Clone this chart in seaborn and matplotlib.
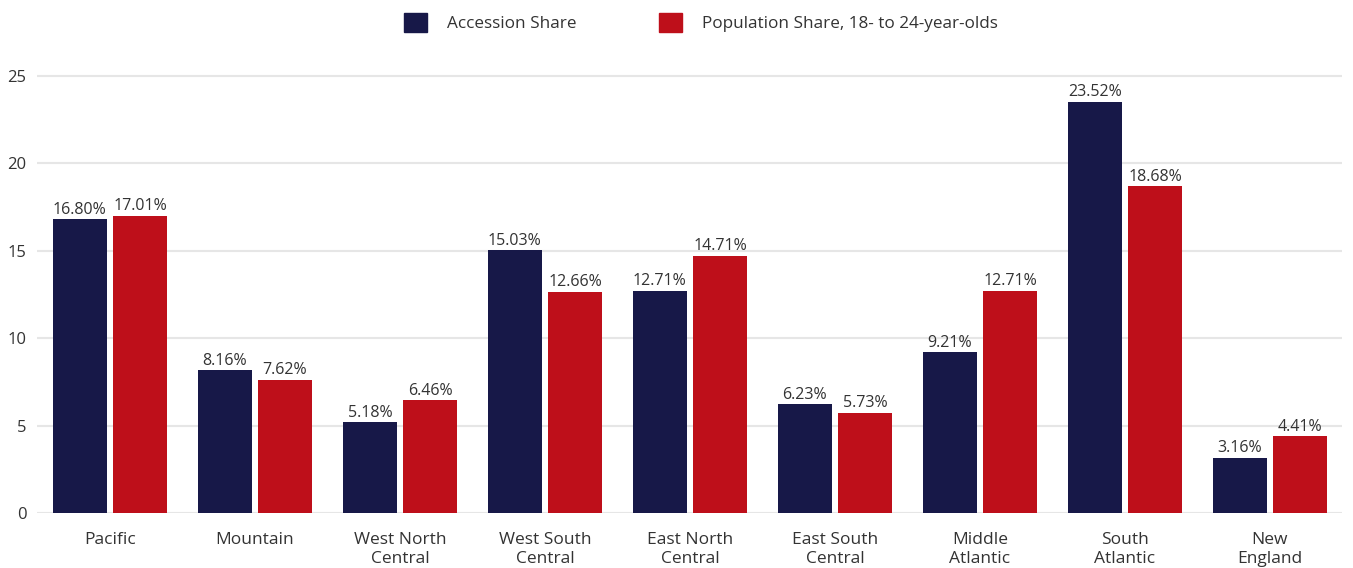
import pandas as pd
import matplotlib
matplotlib.use("Agg")
import matplotlib.pyplot as plt
import seaborn as sns

# data
regions = ["Pacific", "Mountain", "West North\nCentral", "West South\nCentral",
           "East North\nCentral", "East South\nCentral", "Middle\nAtlantic",
           "South\nAtlantic", "New\nEngland"]
accession_share = [16.80, 8.16, 5.18, 15.03, 12.71, 6.23, 9.21, 23.52, 3.16]
population_share = [17.01, 7.62, 6.46, 12.66, 14.71, 5.73, 12.71, 18.68, 4.41]
series = ["Accession Share", "Population Share, 18- to 24-year-olds"]
colors = ["#171848", "#BE0F1A"]

df = pd.DataFrame({
    "region": regions * 2,
    "value": accession_share + population_share,
    "series": [series[0]] * len(regions) + [series[1]] * len(regions),
})

sns.set_style("white")
plt.rcParams["font.family"] = ["Open Sans", "DejaVu Sans"]
text_color = "#333333"

fig = plt.figure(figsize=(13.53, 5.68), dpi=100)
ax = fig.add_axes([0.0277, 0.0968, 0.9645, 0.7756])

sns.barplot(data=df, x="region", y="value", hue="series", palette=colors,
            width=0.83, gap=0.1, saturation=1, linewidth=0, ax=ax, zorder=3)

for cont in ax.containers:
    ax.bar_label(cont, fmt="%.2f%%", fontsize=11.5, color=text_color, padding=1)

ax.set_xlim(-0.5, len(regions) - 0.5)
ax.set_ylim(0, 25.2)
ax.set_yticks([0, 5, 10, 15, 20, 25])
ax.grid(axis="y", color="#e6e6e6", linewidth=1.5, zorder=0)
ax.set_axisbelow(True)
for s in ax.spines.values():
    s.set_visible(False)
ax.set_xlabel("")
ax.set_ylabel("")
ax.tick_params(axis="both", length=0, labelsize=12.5, colors=text_color)
ax.tick_params(axis="y", labelsize=12, pad=8)
ax.tick_params(axis="x", pad=14)
for lbl in ax.get_xticklabels():
    lbl.set_linespacing(1.2)

ax.legend_.remove()
handles = [plt.Rectangle((0, 0), 1, 1, color=c) for c in colors]
fig.legend(handles, series, loc="upper center", bbox_to_anchor=(0.518, 1.005),
           ncol=2, frameon=False, fontsize=12.3, handlelength=1.35, handleheight=1.4,
           handletextpad=1.2, columnspacing=4.8, labelcolor=text_color)

fig.savefig("out.png", dpi=100)
